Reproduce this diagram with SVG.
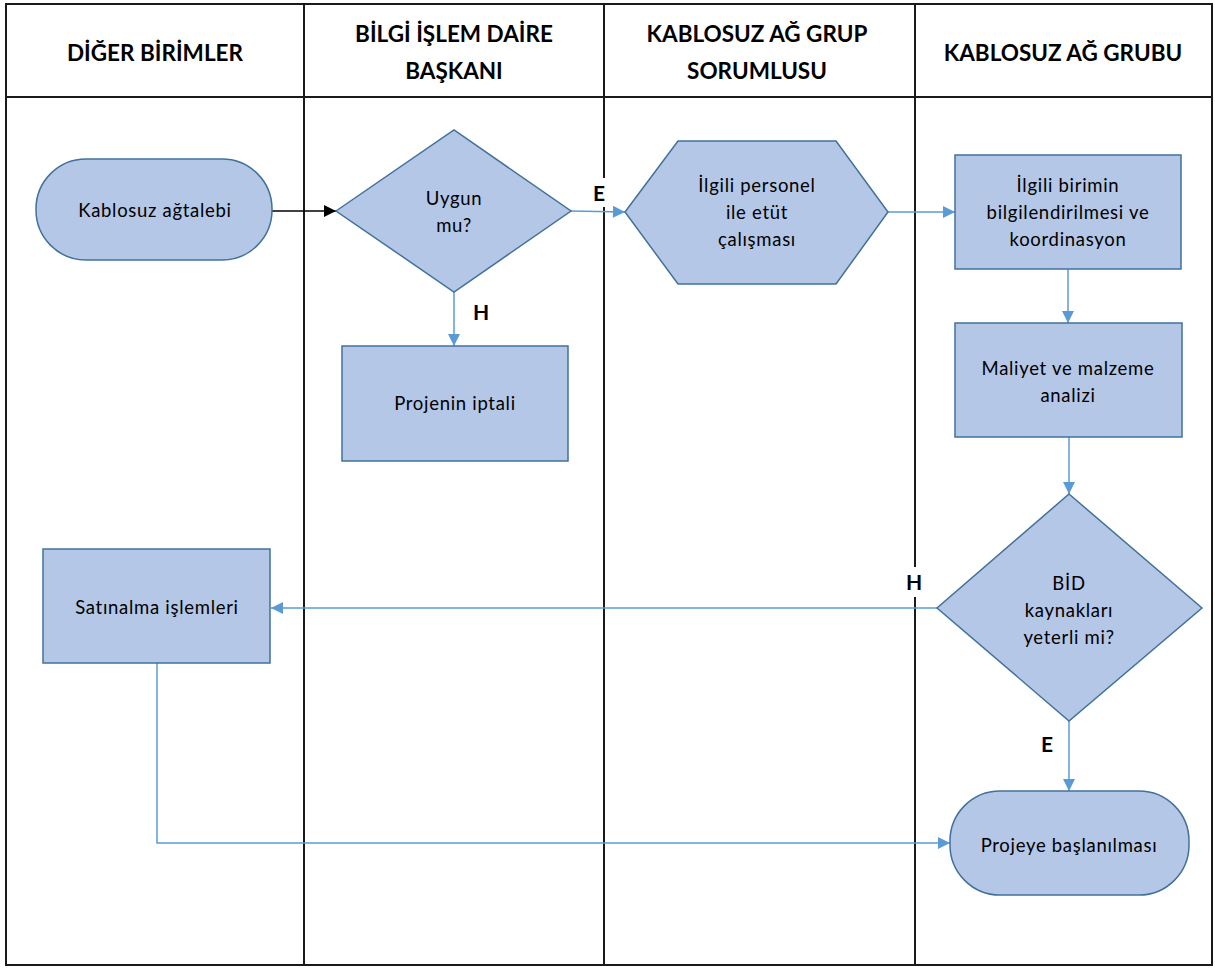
<svg xmlns="http://www.w3.org/2000/svg" width="1215" height="968" viewBox="0 0 1215 968">
<style>
.lane{fill:none;stroke:#1a1a1a;stroke-width:2}
.hdr{font-family:Lato,"Liberation Sans",sans-serif;font-weight:bold;font-size:22.5px;fill:#000;text-anchor:middle}
.node{fill:#B4C7E7;stroke:#41719C;stroke-width:1.5}
.t{font-family:Lato,"Liberation Sans",sans-serif;font-size:18.5px;letter-spacing:0.7px;fill:#000;text-anchor:middle}
.lbl{font-family:Lato,"Liberation Sans",sans-serif;font-weight:bold;font-size:21px;fill:#000;text-anchor:middle}
.bg{fill:#fff}
.c{fill:none;stroke:#5B9BD5;stroke-width:1.5}
.k{fill:none;stroke:#000;stroke-width:1.5}
</style>
<defs>
<marker id="ab" viewBox="0 0 10 10" refX="10" refY="5" markerWidth="13" markerHeight="12" markerUnits="userSpaceOnUse" orient="auto"><path d="M0,0 L10,5 L0,10 z" fill="#5B9BD5"/></marker>
<marker id="ak" viewBox="0 0 10 10" refX="10" refY="5" markerWidth="13" markerHeight="12" markerUnits="userSpaceOnUse" orient="auto"><path d="M0,0 L10,5 L0,10 z" fill="#000"/></marker>
</defs>
<rect width="1215" height="968" fill="#fff"/>
<g id="lanes">
<rect class="lane" x="6" y="4" width="1206" height="961"/>
<line class="lane" x1="6" y1="97" x2="1212" y2="97"/>
<line class="lane" x1="304" y1="4" x2="304" y2="965"/>
<line class="lane" x1="604" y1="4" x2="604" y2="965"/>
<line class="lane" x1="915" y1="4" x2="915" y2="965"/>
<text class="hdr" x="155" y="61">DİĞER BİRİMLER</text>
<text class="hdr" x="454" y="42">BİLGİ İŞLEM DAİRE</text>
<text class="hdr" x="454" y="79">BAŞKANI</text>
<text class="hdr" x="757" y="42">KABLOSUZ AĞ GRUP</text>
<text class="hdr" x="757" y="79">SORUMLUSU</text>
<text class="hdr" x="1063" y="61">KABLOSUZ AĞ GRUBU</text>
</g>
<g id="connectors">
<line class="k" x1="272" y1="211" x2="336" y2="211" marker-end="url(#ak)"/>
<line class="c" x1="571" y1="211" x2="625" y2="212" marker-end="url(#ab)"/>
<line class="c" x1="888" y1="212" x2="955" y2="212" marker-end="url(#ab)"/>
<line class="c" x1="454" y1="292" x2="454" y2="346" marker-end="url(#ab)"/>
<line class="c" x1="1068" y1="269" x2="1068" y2="323" marker-end="url(#ab)"/>
<line class="c" x1="1069" y1="437" x2="1069" y2="494" marker-end="url(#ab)"/>
<line class="c" x1="937" y1="608" x2="271" y2="608" marker-end="url(#ab)"/>
<line class="c" x1="1069" y1="721" x2="1069" y2="791" marker-end="url(#ab)"/>
<polyline class="c" points="157,663 157,843 950,843" marker-end="url(#ab)"/>
<rect class="bg" x="590" y="178" width="19" height="29"/>
<text class="lbl" x="599" y="201">E</text>
<text class="lbl" x="481" y="320">H</text>
<rect class="bg" x="904" y="567" width="21" height="30"/>
<text class="lbl" x="914" y="590">H</text>
<text class="lbl" x="1047" y="752">E</text>
</g>
<g id="n1">
<rect class="node" x="36" y="159" width="236" height="101" rx="50" ry="50"/>
<text class="t" x="155" y="217">Kablosuz ağtalebi</text>
</g>
<g id="n2">
<polygon class="node" points="336,211 454,130 571,211 454,292"/>
<text class="t" x="454" y="205">Uygun</text>
<text class="t" x="454" y="232">mu?</text>
</g>
<g id="n3">
<polygon class="node" points="625,212 678,141 836,141 888,212 836,284 678,284"/>
<text class="t" x="757" y="192">İlgili personel</text>
<text class="t" x="757" y="219">ile etüt</text>
<text class="t" x="757" y="246">çalışması</text>
</g>
<g id="n4">
<rect class="node" x="955" y="155" width="226" height="114"/>
<text class="t" x="1068" y="192">İlgili birimin</text>
<text class="t" x="1068" y="219">bilgilendirilmesi ve</text>
<text class="t" x="1068" y="246">koordinasyon</text>
</g>
<g id="n5">
<rect class="node" x="342" y="346" width="226" height="115"/>
<text class="t" x="455" y="410">Projenin iptali</text>
</g>
<g id="n6">
<rect class="node" x="955" y="323" width="227" height="114"/>
<text class="t" x="1068" y="375">Maliyet ve malzeme</text>
<text class="t" x="1068" y="402">analizi</text>
</g>
<g id="n7">
<polygon class="node" points="1069,494 1202,608 1069,721 937,608"/>
<text class="t" x="1069" y="590">BİD</text>
<text class="t" x="1069" y="617">kaynakları</text>
<text class="t" x="1069" y="644">yeterli mi?</text>
</g>
<g id="n8">
<rect class="node" x="43" y="549" width="227" height="114"/>
<text class="t" x="157" y="614">Satınalma işlemleri</text>
</g>
<g id="n9">
<rect class="node" x="950" y="791" width="239" height="104" rx="50" ry="50"/>
<text class="t" x="1069" y="852">Projeye başlanılması</text>
</g>
</svg>
